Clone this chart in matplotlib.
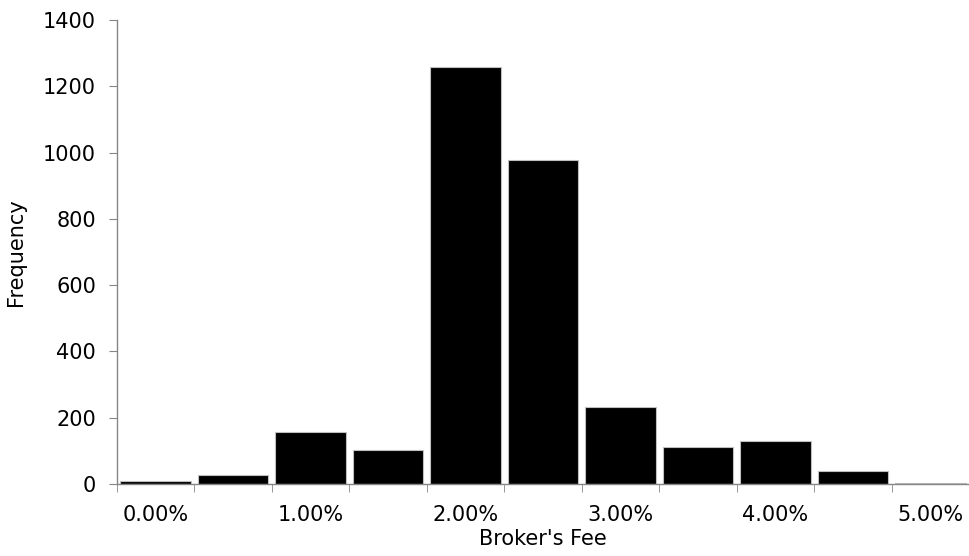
import numpy as np
import matplotlib
matplotlib.use("Agg")
import matplotlib.pyplot as plt

# bin labels (every other one shown on the axis, like the original)
fee_bins = ["0.00%", "0.50%", "1.00%", "1.50%", "2.00%", "2.50%",
            "3.00%", "3.50%", "4.00%", "4.50%", "5.00%"]
counts = [8, 27, 157, 102, 1258, 977, 233, 113, 130, 40, 3]
y_ticks = [0, 200, 400, 600, 800, 1000, 1200, 1400]

plt.rcParams['font.family'] = ['DejaVu Sans']
grey = '#868686'
fs = 15

fig = plt.figure(figsize=(9.69, 5.56), dpi=100)
ax = fig.add_axes([117 / 969, 1 - 484 / 556, (969 - 117) / 969, (484 - 20) / 556])

x = np.arange(len(counts))
ax.bar(x, counts, width=0.91, color='black', edgecolor='#bfbfbf', linewidth=0.8)

ax.set_xlim(-0.5, len(counts) - 0.5)
ax.set_ylim(0, 1400)
ax.set_yticks(y_ticks)
ax.set_yticklabels([str(v) for v in y_ticks], fontsize=fs)

# category labels under every other bar, tick marks on the bin edges
ax.set_xticks(x)
ax.set_xticklabels([lab if i % 2 == 0 else "" for i, lab in enumerate(fee_bins)], fontsize=fs)
ax.tick_params(axis='x', which='major', length=0, pad=15)
ax.set_xticks(np.arange(len(counts) + 1) - 0.5, minor=True)
ax.tick_params(axis='x', which='minor', length=6, color=grey, direction='out')
ax.tick_params(axis='y', length=6, color=grey, direction='out', pad=9)

for side in ['top', 'right']:
    ax.spines[side].set_visible(False)
for side in ['left', 'bottom']:
    ax.spines[side].set_color(grey)
    ax.spines[side].set_linewidth(1)

ax.set_xlabel("Broker's Fee", fontsize=fs, labelpad=3)
ax.set_ylabel("Frequency", fontsize=fs, labelpad=12)

fig.savefig("out.png", dpi=100)
